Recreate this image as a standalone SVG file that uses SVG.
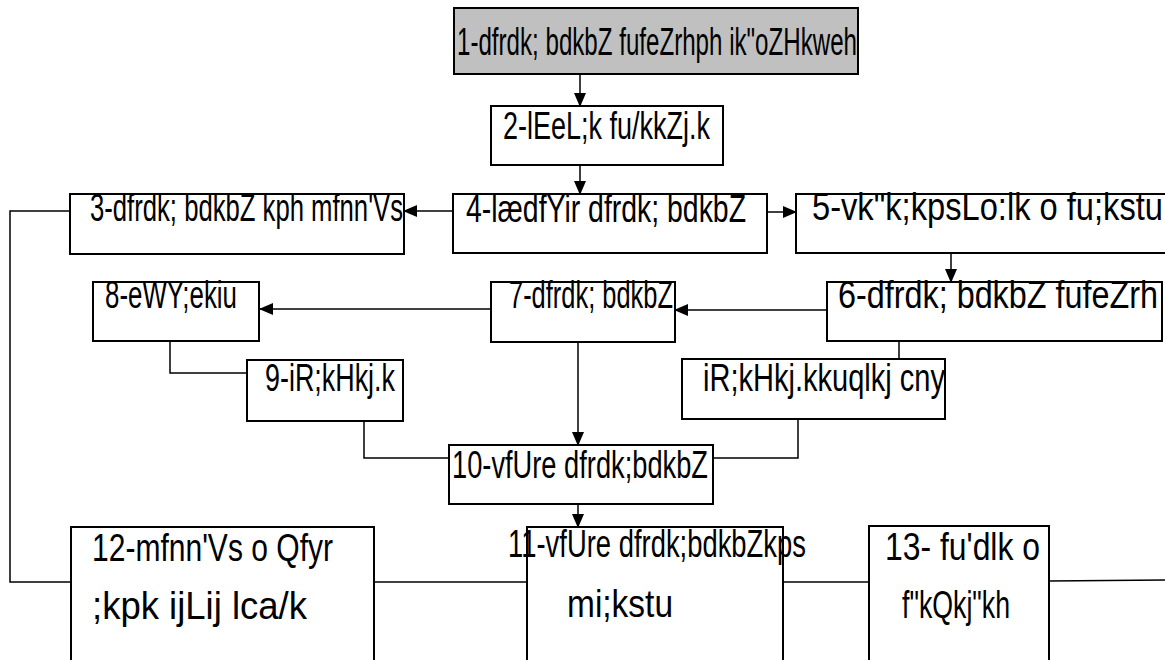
<svg xmlns="http://www.w3.org/2000/svg" width="1165" height="660" viewBox="0 0 1165 660">
<defs>
<marker id="ah" markerWidth="14" markerHeight="12" refX="13" refY="6" orient="auto" markerUnits="userSpaceOnUse" viewBox="0 0 14 12">
<path d="M0,0 L14,6 L0,12 z" fill="#000"/>
</marker>
<style>
.b{fill:#fff;stroke:#000;stroke-width:2}
.g{fill:#c0c0c0;stroke:#000;stroke-width:2}
.t{font-family:"Liberation Sans","DejaVu Sans",sans-serif;font-size:38px;fill:#000}
.c{fill:none;stroke:#000;stroke-width:1.5}
.a{fill:none;stroke:#000;stroke-width:1.5;marker-end:url(#ah)}
</style>
</defs>
<rect width="1165" height="660" fill="#fff"/>
<g id="connectors">
<line class="a" x1="580" y1="74" x2="580" y2="106"/>
<line class="a" x1="580" y1="165" x2="580" y2="194"/>
<line class="a" x1="453" y1="211" x2="404" y2="211"/>
<line class="a" x1="767" y1="212" x2="796" y2="212"/>
<line class="a" x1="951" y1="253" x2="951" y2="282"/>
<line class="a" x1="827" y1="310" x2="675" y2="310"/>
<line class="a" x1="491" y1="309" x2="260" y2="309"/>
<polyline class="c" points="170,341 170,373 247,373"/>
<polyline class="c" points="364,421 364,458 449,458"/>
<line class="a" x1="578" y1="342" x2="578" y2="445"/>
<line class="c" x1="899" y1="341" x2="899" y2="359"/>
<polyline class="c" points="798,419 798,458 713,458"/>
<line class="a" x1="578" y1="504" x2="578" y2="527"/>
<polyline class="c" points="70,211 10,211 10,582 71,582"/>
<line class="c" x1="374" y1="582" x2="527" y2="582"/>
<line class="c" x1="783" y1="582" x2="869" y2="582"/>
<line class="c" x1="1049" y1="581" x2="1165" y2="580"/>
</g>
<g id="n1"><rect class="g" x="454" y="8" width="404" height="66"/><text class="t" x="457" y="55" textLength="400" lengthAdjust="spacingAndGlyphs">1-dfrdk; bdkbZ fufeZrhph ik"oZHkweh</text></g>
<g id="n2"><rect class="b" x="491" y="106" width="232" height="59"/><text class="t" x="503" y="139" textLength="207" lengthAdjust="spacingAndGlyphs">2-lEeL;k fu/kkZj.k</text></g>
<g id="n3"><rect class="b" x="70" y="194" width="334" height="60"/><text class="t" x="90" y="221" textLength="313" lengthAdjust="spacingAndGlyphs">3-dfrdk; bdkbZ kph mfnn'Vs</text></g>
<g id="n4"><rect class="b" x="453" y="194" width="314" height="59"/><text class="t" x="466" y="222" textLength="280" lengthAdjust="spacingAndGlyphs">4-lædfYir dfrdk; bdkbZ</text></g>
<g id="n5"><rect class="b" x="796" y="194" width="380" height="59"/><text class="t" x="812" y="220" textLength="351" lengthAdjust="spacingAndGlyphs">5-vk"k;kpsLo:lk o fu;kstu</text></g>
<g id="n6"><rect class="b" x="827" y="282" width="335" height="59"/><text class="t" x="838" y="308" textLength="320" lengthAdjust="spacingAndGlyphs">6-dfrdk; bdkbZ fufeZrh</text></g>
<g id="n7"><rect class="b" x="491" y="282" width="184" height="60"/><text class="t" x="509" y="308" textLength="164" lengthAdjust="spacingAndGlyphs">7-dfrdk; bdkbZ</text></g>
<g id="n8"><rect class="b" x="93" y="282" width="166" height="59"/><text class="t" x="105" y="308" textLength="132" lengthAdjust="spacingAndGlyphs">8-eWY;ekiu</text></g>
<g id="n9"><rect class="b" x="247" y="360" width="156" height="61"/><text class="t" x="265" y="391" textLength="130" lengthAdjust="spacingAndGlyphs">9-iR;kHkj.k</text></g>
<g id="n9b"><rect class="b" x="682" y="359" width="263" height="60"/><text class="t" x="703" y="391" textLength="242" lengthAdjust="spacingAndGlyphs">iR;kHkj.kkuqlkj cny</text></g>
<g id="n10"><rect class="b" x="449" y="445" width="264" height="59"/><text class="t" x="452" y="478" textLength="256" lengthAdjust="spacingAndGlyphs">10-vfUre dfrdk;bdkbZ</text></g>
<g id="n11"><rect class="b" x="527" y="527" width="256" height="140"/><text class="t" x="508" y="557" textLength="298" lengthAdjust="spacingAndGlyphs">11-vfUre dfrdk;bdkbZkps</text><text class="t" x="567" y="617" textLength="106" lengthAdjust="spacingAndGlyphs">mi;kstu</text></g>
<g id="n12"><rect class="b" x="71" y="527" width="303" height="140"/><text class="t" x="92" y="561" textLength="241" lengthAdjust="spacingAndGlyphs">12-mfnn'Vs o Qfyr</text><text class="t" x="92" y="619" textLength="215" lengthAdjust="spacingAndGlyphs">;kpk ijLij lca/k</text></g>
<g id="n13"><rect class="b" x="869" y="526" width="180" height="141"/><text class="t" x="885" y="560" textLength="155" lengthAdjust="spacingAndGlyphs">13- fu'dlk o</text><text class="t" x="902" y="618" textLength="108" lengthAdjust="spacingAndGlyphs">f"kQkj"kh</text></g>
</svg>
